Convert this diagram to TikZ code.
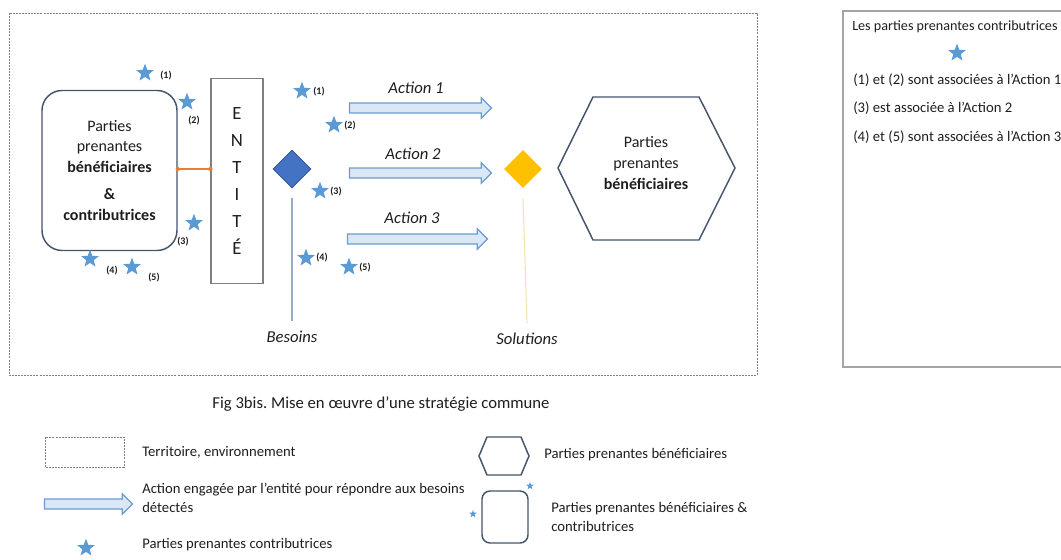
\documentclass[tikz,border=0pt]{standalone}
\usepackage{fontspec}
\setmainfont{Carlito}
\usetikzlibrary{shapes.geometric,shapes.arrows}
\definecolor{starblue}{RGB}{91,155,213}
\definecolor{slate}{RGB}{68,84,106}
\definecolor{arrowfill}{RGB}{218,232,246}
\definecolor{arrowline}{RGB}{108,155,210}
\definecolor{needblue}{RGB}{68,114,196}
\definecolor{neededge}{RGB}{47,82,143}
\definecolor{solyellow}{RGB}{255,192,0}
\definecolor{linkorange}{RGB}{237,125,49}
\definecolor{framegray}{RGB}{127,127,127}
\definecolor{needline}{RGB}{150,172,200}
\definecolor{solline}{RGB}{242,226,176}
\definecolor{inktext}{RGB}{30,30,30}
\frenchspacing

\begin{document}
\begin{tikzpicture}[x=0.75pt,y=-0.75pt,
    every node/.style={text=inktext},
    frame/.style={draw=framegray,line width=0.6pt,dash pattern=on 1.5pt off 0.8pt},
    ppbox/.style={draw=slate,line width=1.1pt,rounded corners=15pt,align=center,
        font=\fontsize{12}{15.5}\selectfont},
    entbox/.style={draw=framegray,line width=0.8pt,minimum width=39pt,minimum height=154pt,
        align=center,font=\fontsize{14}{20.3}\selectfont},
    contrib/.style={star,star points=5,star point ratio=2.4,fill=starblue,inner sep=0pt,minimum size=14pt},
    smallcontrib/.style={contrib,minimum size=6pt},
    starlbl/.style={font=\fontsize{7.5}{8}\selectfont\bfseries,inner sep=0pt},
    actarrow/.style={single arrow,draw=arrowline,fill=arrowfill,line width=0.9pt,
        inner xsep=0pt,inner ysep=3.3pt,single arrow head extend=3.9pt},
    actlbl/.style={font=\fontsize{12.5}{14}\selectfont\itshape},
    need/.style={diamond,aspect=1,inner sep=0pt,minimum width=28.5pt,minimum height=28.5pt},
    txt/.style={font=\fontsize{11}{14.5}\selectfont,anchor=west,align=left,inner sep=0pt}
]
\useasboundingbox (0,0) rectangle (1061,560);

% territoire
\draw[frame] (9,13) rectangle (757,375);

% parties prenantes beneficiaires et contributrices + entite
\node[ppbox,minimum width=101.25pt,minimum height=120pt] (pbc) at (109.5,170.5)
    {Parties\\prenantes\\\textbf{bénéficiaires}\\[5pt]\textbf{\&}\\\textbf{contributrices}};
\node[entbox] (entite) at (237,181) {E\\N\\T\\I\\T\\É};
\draw[linkorange,line width=0.8pt] (pbc.east |- 0,169) coordinate (lk1) -- (entite.west |- 0,169) coordinate (lk2);
\fill[linkorange] (lk1) circle (1.6pt) (lk2) circle (1.6pt);

% contributrices autour de l'entite
\foreach \n/\sx/\sy/\lx/\ly in {1/145/73/166/76,2/187/102/194/121,3/194/223/183/242,
                                4/90/259/112/271,5/132/267/154/278} {
    \node[contrib] (ls\n) at (\sx,\sy) {};
    \node[starlbl] (ll\n) at (\lx,\ly) {(\n)};
}
\foreach \n/\sx/\sy/\lx/\ly in {1/302/91/319/92,2/334/125/350/126,3/320/191/336/192,
                                4/306/258/322/258,5/349/267/365/268} {
    \node[contrib] (ms\n) at (\sx,\sy) {};
    \node[starlbl] (ml\n) at (\lx,\ly) {(\n)};
}

% besoins
\node[need,fill=needblue,draw=neededge,line width=0.6pt] (besoin) at (292,169) {};
\node[actlbl] (besoins) at (292,337) {Besoins};
\draw[needline,line width=0.8pt] ([yshift=-7pt]besoin.south) -- ([yshift=4pt]besoins.north);

% actions
\node[actarrow,minimum height=106.5pt] (act1) at (418,108) {};
\node[actarrow,minimum height=106.5pt] (act2) at (418,173) {};
\node[actarrow,minimum height=105pt] (act3) at (415,239) {};
\node[actlbl] (al1) at (416,88) {Action 1};
\node[actlbl] (al2) at (413,154) {Action 2};
\node[actlbl] (al3) at (412,218) {Action 3};

% solutions
\node[need,fill=solyellow] (solution) at (523,169) {};
\node[actlbl] (solutions) at (527,339) {Solutions};
\draw[solline,line width=0.8pt] ([yshift=-8pt]solution.south) -- ([yshift=4pt]solutions.north);

% parties prenantes beneficiaires
\draw[slate,line width=1.1pt] (558,168) -- (593,97) -- (699,97) -- (735,168) -- (699,240) -- (593,240) -- cycle;
\node[align=center,font=\fontsize{12}{15.5}\selectfont] (ppb) at (646,163)
    {Parties\\prenantes\\\textbf{bénéficiaires}};

% encadre de droite
\draw[framegray!70,line width=0.8pt] (1062,11) -- (843,11) -- (843,367) -- (1062,367);
\node[txt,font=\fontsize{10.6}{14}\selectfont] (ctitle) at (852,27) {Les parties prenantes contributrices};
\node[contrib] (cstar) at (957,53) {};
\node[txt] (c1) at (853,80) {(1) et (2) sont associées à l’Action 1};
\node[txt] (c2) at (853,108) {(3) est associée à l’Action 2};
\node[txt] (c3) at (853,137) {(4) et (5) sont associées à l’Action 3};

% legende
\node[font=\fontsize{12.5}{14}\selectfont] (caption) at (381,404) {Fig 3bis. Mise en œuvre d’une stratégie commune};
\draw[frame] (45,437) rectangle (124,467);
\node[txt] (lg1) at (142,452) {Territoire, environnement};
\node[actarrow,minimum height=66pt] (lgarrow) at (86,504) {};
\node[txt] (lg2) at (142,498) {Action engagée par l’entité pour répondre aux besoins\\détectés};
\node[contrib] (lgstar) at (86,548) {};
\node[txt] (lg3) at (142,545) {Parties prenantes contributrices};
\draw[slate,line width=1.1pt] (479,456) -- (487,437) -- (521,437) -- (529,456) -- (521,475) -- (487,475) -- cycle;
\node[txt] (lg4) at (544,455) {Parties prenantes bénéficiaires};
\draw[slate,line width=1.1pt,rounded corners=6pt] (482,491) rectangle (528,543);
\node[smallcontrib] (lgs1) at (530,486) {};
\node[smallcontrib] (lgs2) at (473,514) {};
\node[txt] (lg5) at (551,517) {Parties prenantes bénéficiaires \&\\contributrices};
\end{tikzpicture}
\end{document}
